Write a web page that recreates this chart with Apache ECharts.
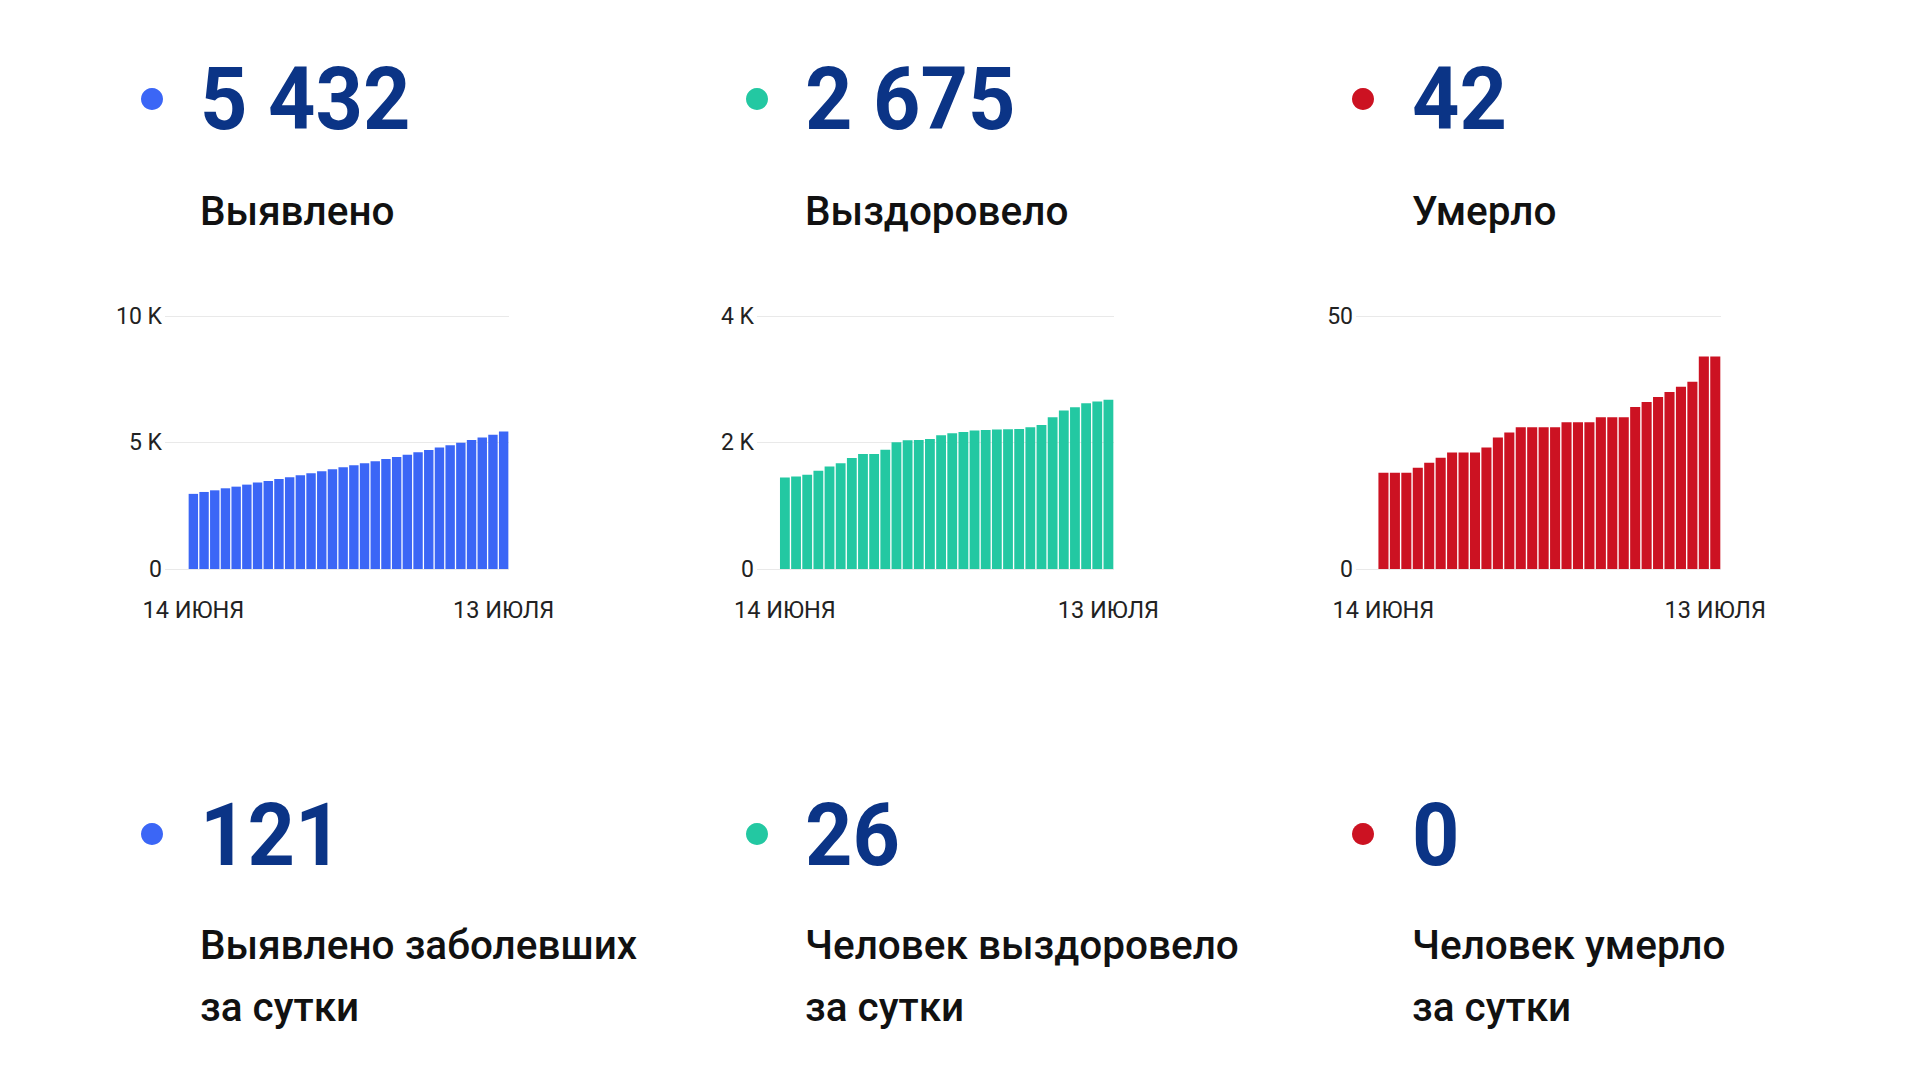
<!DOCTYPE html>
<html>
<head>
<meta charset="utf-8">
<script src="https://cdn.jsdelivr.net/npm/echarts@6/dist/echarts.min.js"></script>
<style>
  html, body { margin: 0; padding: 0; background: #ffffff; }
  #chart { width: 1920px; height: 1080px; }
</style>
</head>
<body>
<div id="chart"></div>
<script>
// ---- data ----
const dates = ['14 ИЮНЯ','15 ИЮНЯ','16 ИЮНЯ','17 ИЮНЯ','18 ИЮНЯ','19 ИЮНЯ','20 ИЮНЯ','21 ИЮНЯ','22 ИЮНЯ','23 ИЮНЯ',
  '24 ИЮНЯ','25 ИЮНЯ','26 ИЮНЯ','27 ИЮНЯ','28 ИЮНЯ','29 ИЮНЯ','30 ИЮНЯ','1 ИЮЛЯ','2 ИЮЛЯ','3 ИЮЛЯ',
  '4 ИЮЛЯ','5 ИЮЛЯ','6 ИЮЛЯ','7 ИЮЛЯ','8 ИЮЛЯ','9 ИЮЛЯ','10 ИЮЛЯ','11 ИЮЛЯ','12 ИЮЛЯ','13 ИЮЛЯ'];
const shownDateIdx = [0, 29];

const detected = [2970, 3045, 3110, 3190, 3255, 3335, 3415, 3480, 3560, 3625,
  3705, 3785, 3865, 3945, 4020, 4100, 4180, 4260, 4350, 4430,
  4520, 4615, 4705, 4800, 4890, 4995, 5100, 5195, 5311, 5432];
const recovered = [1445, 1462, 1490, 1555, 1622, 1670, 1755, 1817, 1817, 1887,
  2003, 2034, 2039, 2055, 2114, 2145, 2166, 2188, 2198, 2204,
  2209, 2214, 2240, 2278, 2398, 2505, 2558, 2620, 2649, 2675];
const died = [19, 19, 19, 20, 21, 22, 23, 23, 23, 24,
  26, 27, 28, 28, 28, 28, 29, 29, 29, 30,
  30, 30, 32, 33, 34, 35, 36, 37, 42, 42];

const yTicks1 = { 0: '0', 5000: '5 K', 10000: '10 K' };
const yTicks2 = { 0: '0', 2000: '2 K', 4000: '4 K' };
const yTicks3 = { 0: '0', 50: '50' };

const totals = ['5 432', '2 675', '42'];
const totalLabels = ['Выявлено', 'Выздоровело', 'Умерло'];
const daily = ['121', '26', '0'];
const dailyLabels = ['Выявлено заболевших\nза сутки', 'Человек выздоровело\nза сутки', 'Человек умерло\nза сутки'];

// ---- styles ----
const colors = ['#3b66f6', '#23c8a2', '#cc1222'];
const navy = '#0b3486';
const FONT = 'Roboto, "Noto Sans", sans-serif';
const dotX = [152, 757, 1363];
const textX = [200, 805, 1412];

const chart = echarts.init(document.getElementById('chart'), null, { renderer: 'svg' });

const grids = [
  { left: 165, top: 316, width: 344, height: 253 },
  { left: 757, top: 316, width: 357, height: 253 },
  { left: 1356, top: 316, width: 365, height: 253 }
];
const xRanges = [[-2.65, 29.5], [-2.5, 29.5], [-2.4, 29.5]];
const yCfg = [
  { max: 10000, interval: 5000, ticks: yTicks1 },
  { max: 4000, interval: 2000, ticks: yTicks2 },
  { max: 50, interval: 50, ticks: yTicks3 }
];
const seriesData = [detected, recovered, died];

const xAxis = grids.map((g, i) => ({
  type: 'value', gridIndex: i, min: xRanges[i][0], max: xRanges[i][1],
  axisLine: { show: false }, axisTick: { show: false }, splitLine: { show: false },
  axisLabel: {
    customValues: shownDateIdx,
    formatter: v => dates[Math.round(v)] || '',
    fontFamily: FONT, fontSize: 23.5, color: '#222', margin: 29
  }
}));
const yAxis = grids.map((g, i) => ({
  type: 'value', gridIndex: i, min: 0, max: yCfg[i].max, interval: yCfg[i].interval,
  axisLine: { show: false }, axisTick: { show: false },
  splitLine: { show: true, lineStyle: { color: '#e9e9e9', width: 1 } },
  axisLabel: {
    formatter: v => yCfg[i].ticks[v] !== undefined ? yCfg[i].ticks[v] : '',
    fontFamily: FONT, fontSize: 23, color: '#222', margin: 3
  }
}));
const series = seriesData.map((d, i) => ({
  type: 'bar', xAxisIndex: i, yAxisIndex: i,
  data: d.map((v, k) => [k, v]),
  barWidth: '88%',
  itemStyle: { color: colors[i] },
  silent: true
}));

const graphic = [];
for (let i = 0; i < 3; i++) {
  graphic.push({ type: 'circle', shape: { cx: dotX[i], cy: 99, r: 11 }, style: { fill: colors[i] } });
  graphic.push({ type: 'circle', shape: { cx: dotX[i], cy: 834, r: 11 }, style: { fill: colors[i] } });
  graphic.push({ type: 'text', x: textX[i], y: 99, scaleX: 0.94,
    style: { text: totals[i], fontFamily: FONT, fontWeight: 'bold', fontSize: 88, fill: navy, align: 'left', verticalAlign: 'middle' } });
  graphic.push({ type: 'text', x: textX[i], y: 835, scaleX: 0.94,
    style: { text: daily[i], fontFamily: FONT, fontWeight: 'bold', fontSize: 88, fill: navy, align: 'left', verticalAlign: 'middle' } });
  graphic.push({ type: 'text', x: textX[i], y: 211,
    style: { text: totalLabels[i], fontFamily: FONT, fontWeight: 500, fontSize: 40.5, fill: '#111', align: 'left', verticalAlign: 'middle' } });
  graphic.push({ type: 'text', x: textX[i], y: 976,
    style: { text: dailyLabels[i], fontFamily: FONT, fontWeight: 500, fontSize: 40.5, lineHeight: 62, fill: '#111', align: 'left', verticalAlign: 'middle' } });
}

chart.setOption({
  animation: false,
  backgroundColor: '#ffffff',
  grid: grids,
  xAxis: xAxis,
  yAxis: yAxis,
  series: series,
  graphic: graphic
});
</script>
</body>
</html>
